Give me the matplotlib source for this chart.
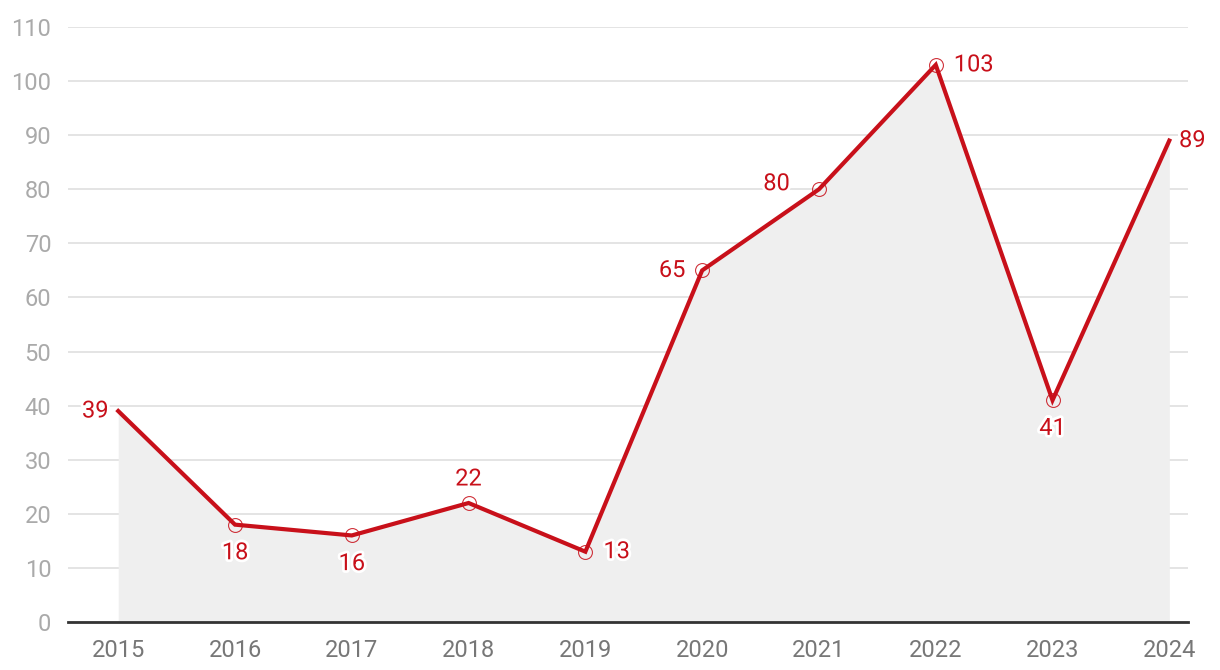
import matplotlib.pyplot as plt
import matplotlib.patheffects as pe

years = [2015, 2016, 2017, 2018, 2019, 2020, 2021, 2022, 2023, 2024]
values = [39, 18, 16, 22, 13, 65, 80, 103, 41, 89]
# where each value label sits relative to its point
label_pos = ['left', 'below', 'below', 'above', 'right', 'left', 'left', 'right', 'below', 'right']
yticks = list(range(0, 111, 10))

red = '#c8101a'
plt.rcParams['font.family'] = ['Roboto', 'DejaVu Sans']

fig = plt.figure(figsize=(12.2, 6.7), dpi=100)
ax = fig.add_axes([68 / 1220, 1 - 622 / 670, 1120 / 1220, 595 / 670])

ax.fill_between(years, values, 0, color='#efefef', zorder=1, lw=0)
ax.plot(years, values, color=red, lw=3, zorder=3, solid_joinstyle='miter')
ax.plot(years[1:-1], values[1:-1], 'o', ms=10, mfc='none', mec=red, mew=0.8,
        alpha=0.85, zorder=4)

# label offsets in points
dx_map = {2015: -7, 2020: -12, 2021: -21, 2022: 13, 2019: 13, 2024: 7}
for x, v, p in zip(years, values, label_pos):
    if p == 'below':
        xy, ha, va = (0, -12), 'center', 'top'
    elif p == 'above':
        xy, ha, va = (0, 9), 'center', 'bottom'
    else:
        dy = 4 if x == 2021 else 0
        xy, ha, va = (dx_map[x], dy), ('right' if p == 'left' else 'left'), 'center'
    ax.annotate(str(v), (x, v), xytext=xy, textcoords='offset points',
                ha=ha, va=va, color=red, fontsize=17, zorder=5,
                path_effects=[pe.withStroke(linewidth=4, foreground='white')])

ax.set_xlim(2014.57, 2024.16)
ax.set_ylim(0, 110)
ax.set_yticks(yticks)
ax.set_xticks(years)
ax.grid(axis='y', color='#e2e2e2', lw=1.3, zorder=0)
ax.set_axisbelow(True)
for s in ['top', 'right', 'left']:
    ax.spines[s].set_visible(False)
ax.spines['bottom'].set_color('#333333')
ax.spines['bottom'].set_linewidth(2)
ax.spines['bottom'].set_zorder(6)
ax.tick_params(axis='y', length=0, pad=12, labelsize=17, labelcolor='#aaaaaa')
ax.tick_params(axis='x', length=0, pad=12, labelsize=17, labelcolor='#777777')

fig.savefig('out.png', dpi=100)
